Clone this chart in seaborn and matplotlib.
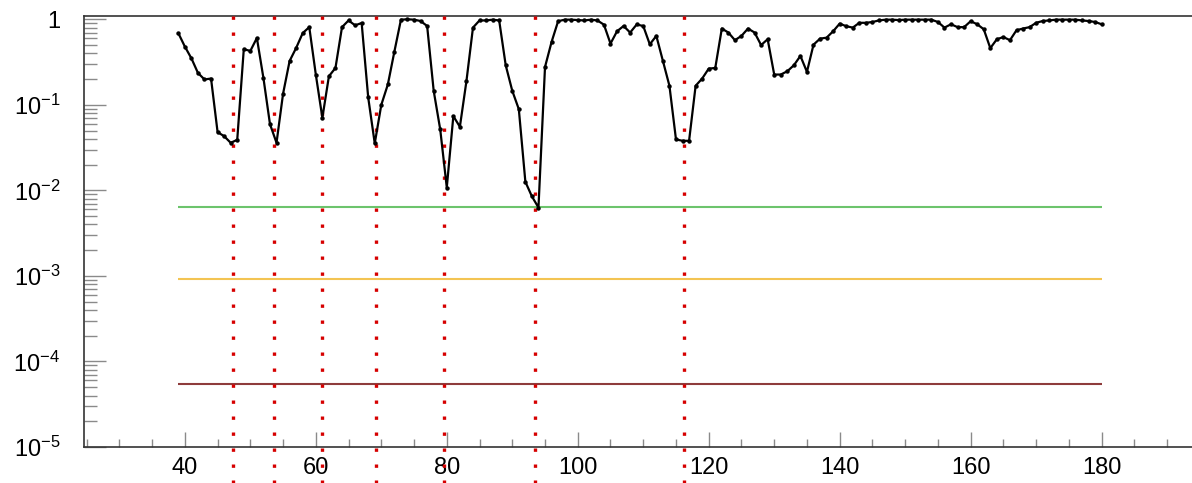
import numpy as np
import pandas as pd
import matplotlib
matplotlib.use("Agg")
import matplotlib.pyplot as plt
import matplotlib.transforms as mtransforms
from matplotlib.ticker import FixedLocator, MultipleLocator, LogLocator, NullFormatter
import seaborn as sns

# Scan of local p-values versus mass
mass = list(range(39, 181))
p_local = [
    0.69, 0.48, 0.35, 0.236, 0.198, 0.203, 0.048, 0.043, 0.036, 0.039,
    0.447, 0.427, 0.605, 0.206, 0.0595, 0.036, 0.135, 0.326, 0.463, 0.69,
    0.81, 0.226, 0.0705, 0.216, 0.27, 0.81, 0.97, 0.85, 0.905, 0.122,
    0.0354, 0.10, 0.173, 0.42, 0.99, 1.0, 0.99, 0.955, 0.835, 0.146,
    0.0515, 0.0108, 0.0738, 0.0554, 0.189, 0.80, 0.97, 0.97, 0.99, 0.97,
    0.29, 0.146, 0.089, 0.0126, 0.0085, 0.0063, 0.277, 0.543, 0.95, 0.99,
    0.99, 0.98, 0.97, 0.99, 0.97, 0.865, 0.52, 0.725, 0.835, 0.70,
    0.87, 0.835, 0.51, 0.64, 0.326, 0.167, 0.0394, 0.038, 0.038, 0.167,
    0.203, 0.265, 0.27, 0.78, 0.70, 0.57, 0.64, 0.78, 0.70, 0.50,
    0.585, 0.226, 0.226, 0.247, 0.29, 0.373, 0.243, 0.505, 0.594, 0.61,
    0.725, 0.89, 0.83, 0.80, 0.91, 0.91, 0.93, 0.97, 0.99, 0.99,
    0.98, 0.99, 0.99, 0.99, 0.99, 0.99, 0.93, 0.80, 0.875, 0.81,
    0.81, 0.95, 0.875, 0.765, 0.46, 0.585, 0.62, 0.57, 0.745, 0.78,
    0.81, 0.91, 0.955, 0.97, 0.99, 0.99, 0.99, 0.99, 0.97, 0.955,
    0.93, 0.875,
]

# Reference levels and their colours
level_values = [6.4e-3, 9.1e-4, 5.4e-5]
level_colors = ["#6cc46c", "#f3c453", "#8e3b3b"]
level_span = [39, 180]

# Positions of the dips marked by vertical dotted lines
marker_positions = [47.3, 53.6, 60.9, 69.2, 79.6, 93.5, 116.2]

x_ticks = [40, 60, 80, 100, 120, 140, 160, 180]
x_tick_labels = ["40", "60", "80", "100", "120", "140", "160", "180"]
y_ticks = [1e-5, 1e-4, 1e-3, 1e-2, 1e-1, 1]
y_tick_labels = ["10$^{-5}$", "10$^{-4}$", "10$^{-3}$", "10$^{-2}$", "10$^{-1}$", "1"]

sns.set_style("ticks")
plt.rcParams["font.family"] = ["Liberation Sans", "DejaVu Sans"]
plt.rcParams["mathtext.fontset"] = "custom"
plt.rcParams["mathtext.rm"] = "Liberation Sans"
plt.rcParams["mathtext.it"] = "Liberation Sans:italic"
plt.rcParams["mathtext.bf"] = "Liberation Sans:bold"

fig = plt.figure(figsize=(11.92, 4.83), dpi=100)
ax = fig.add_axes([84 / 1192, 1 - 447 / 483, 1 - 84 / 1192, (447 - 16) / 483])

df = pd.DataFrame({"mass": mass, "p": p_local})

# Horizontal reference levels
for val, col in zip(level_values, level_colors):
    ax.hlines(val, level_span[0], level_span[1], colors=col, linewidth=1.5, zorder=2)

# Vertical dotted markers running down past the axis
trans = mtransforms.blended_transform_factory(ax.transData, ax.transAxes)
for xm in marker_positions:
    ax.plot([xm, xm], [1.0, -0.12], transform=trans, color="#d60000",
            linewidth=2.4, linestyle=(0, (1, 3.8)), clip_on=False, zorder=3,
            solid_capstyle="butt", dash_capstyle="butt")

sns.lineplot(data=df, x="mass", y="p", ax=ax, color="black", linewidth=1.6,
             marker="o", markersize=3.2, markeredgewidth=0, zorder=4)

ax.set_yscale("log")
ax.set_xlim(24.6, 193.8)
ax.set_ylim(1e-5, 1.093)

ax.xaxis.set_major_locator(FixedLocator(x_ticks))
ax.set_xticklabels(x_tick_labels)
ax.xaxis.set_minor_locator(MultipleLocator(5))
ax.yaxis.set_major_locator(FixedLocator(y_ticks))
ax.set_yticklabels(y_tick_labels)
ax.yaxis.set_minor_locator(LogLocator(base=10, subs=np.arange(2, 10)))
ax.yaxis.set_minor_formatter(NullFormatter())

ax.tick_params(axis="both", which="both", direction="in", colors="#8a8a8a",
               labelcolor="black", labelsize=17, width=1.0)
ax.tick_params(axis="y", which="major", length=16, pad=17)
ax.tick_params(axis="y", which="minor", length=9)
ax.tick_params(axis="x", which="major", length=11, pad=7)
ax.tick_params(axis="x", which="minor", length=5.5)

ax.set_xlabel("")
ax.set_ylabel("")
ax.spines["right"].set_visible(False)
for side in ["left", "bottom", "top"]:
    ax.spines[side].set_color("#333333")
    ax.spines[side].set_linewidth(1.2)

fig.savefig("out.png", dpi=100)
